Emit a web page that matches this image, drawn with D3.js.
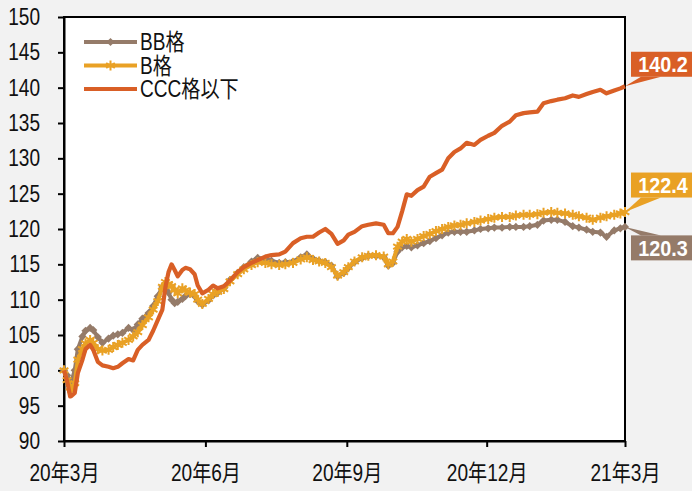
<!DOCTYPE html>
<html>
<head>
<meta charset="utf-8">
<script src="https://cdn.jsdelivr.net/npm/d3@7"></script>
<style>
  body { margin: 0; background: #f2f2f2; }
  svg text { font-family: "Liberation Sans Narrow", "Arial Narrow", "Liberation Sans", "Noto Sans CJK JP", sans-serif; }
  .axis path, .axis line { stroke: #000; stroke-width: 2px; }
  .axis text { font-size: 23px; fill: #111; }
</style>
</head>
<body>
<div id="result"></div>
<script>

var dates = [
  "2020-03-01","2020-03-03","2020-03-05","2020-03-06","2020-03-08","2020-03-10","2020-03-13","2020-03-15","2020-03-18","2020-03-20",
  "2020-03-23","2020-03-26","2020-03-30","2020-04-02","2020-04-05","2020-04-08","2020-04-12","2020-04-15","2020-04-18","2020-04-21",
  "2020-04-25","2020-04-28","2020-05-01","2020-05-04","2020-05-06","2020-05-08","2020-05-10","2020-05-12","2020-05-14","2020-05-17",
  "2020-05-19","2020-05-22","2020-05-25","2020-05-27","2020-05-30","2020-06-03","2020-06-06","2020-06-09","2020-06-13","2020-06-17",
  "2020-06-22","2020-06-26","2020-07-01","2020-07-05","2020-07-10","2020-07-14","2020-07-19","2020-07-23","2020-07-28","2020-08-02",
  "2020-08-06","2020-08-10","2020-08-14","2020-08-18","2020-08-22","2020-08-26","2020-08-30","2020-09-02","2020-09-06","2020-09-11",
  "2020-09-15","2020-09-20","2020-09-25","2020-09-28","2020-10-01","2020-10-04","2020-10-07","2020-10-10","2020-10-13","2020-10-17",
  "2020-10-21","2020-10-25","2020-10-29","2020-11-02","2020-11-06","2020-11-10","2020-11-14","2020-11-18","2020-11-23","2020-11-27",
  "2020-12-02","2020-12-06","2020-12-11","2020-12-16","2020-12-20","2020-12-25","2020-12-29","2021-01-03","2021-01-07","2021-01-12",
  "2021-01-16","2021-01-21","2021-01-26","2021-01-30","2021-02-04","2021-02-08","2021-02-13","2021-02-17","2021-02-22","2021-02-26",
  "2021-03-01"
];

var bbVals = [
  100.0, 99.3, 98.3, 98.6, 100.0, 103.0, 104.8, 105.6, 106.0, 105.7,
  104.7, 103.9, 104.5, 104.9, 105.1, 105.3, 106.0, 105.7, 106.5, 107.3,
  108.1, 109.1, 110.5, 111.8, 112.3, 111.0, 110.0, 109.5, 109.7, 110.1,
  110.5, 110.8, 110.5, 109.8, 109.3, 109.9, 110.6, 111.0, 111.6, 112.8,
  113.8, 114.6, 115.4, 115.9, 115.8, 115.5, 115.2, 115.3, 115.4, 116.0,
  116.4, 115.8, 115.5, 115.3, 114.8, 113.3, 113.8, 114.5, 115.3, 115.9,
  116.2, 116.2, 116.0, 114.8, 115.2, 116.8, 117.4, 117.6, 117.4, 117.7,
  118.0, 118.3, 118.7, 119.1, 119.5, 119.6, 119.6, 119.6, 119.8, 120.0,
  120.1, 120.2, 120.2, 120.3, 120.3, 120.3, 120.4, 120.6, 121.2, 121.3,
  121.3, 121.0, 120.4, 120.2, 119.9, 119.6, 119.5, 118.9, 119.8, 120.1,
  120.3
];

var bVals = [
  100.0, 98.6, 97.6, 97.2, 98.2, 101.5, 103.0, 103.8, 104.3, 103.9,
  103.0, 102.8, 102.9, 103.3, 103.6, 103.9, 104.3, 104.8, 105.4, 106.4,
  107.5, 108.6, 109.8, 111.8, 112.5, 112.2, 111.9, 111.4, 110.9, 111.6,
  111.3, 111.0, 110.8, 110.0, 109.4, 110.1, 110.8, 111.1, 111.5, 112.6,
  113.6, 114.3, 114.9, 115.3, 115.2, 115.0, 114.9, 115.0, 115.2, 115.7,
  116.0, 115.6, 115.4, 115.2, 114.6, 113.4, 113.9, 114.6, 115.4, 116.0,
  116.2, 116.3, 116.1, 115.0, 115.4, 117.5, 118.2, 118.6, 118.2, 118.6,
  119.0, 119.3, 119.7, 120.0, 120.3, 120.5, 120.6, 120.8, 121.0, 121.2,
  121.4, 121.6, 121.7, 121.7, 121.9, 122.0, 122.0, 122.1, 122.3, 122.4,
  122.3, 122.2, 122.0, 121.8, 121.6, 121.3, 121.6, 121.8, 122.0, 122.2,
  122.4
];

var cccVals = [
  100.0, 98.5, 96.3, 96.4, 96.8, 99.6, 101.5, 103.0, 103.6, 102.9,
  101.2, 100.7, 100.5, 100.3, 100.5, 101.0, 101.6, 101.4, 102.9, 103.6,
  104.3, 105.6, 107.1, 108.6, 111.8, 113.9, 115.0, 114.2, 113.3, 114.2,
  114.5, 114.3, 113.6, 112.0, 110.9, 111.4, 112.0, 111.6, 111.9, 112.7,
  113.9, 114.6, 115.2, 115.6, 116.1, 116.3, 116.4, 116.8, 118.0, 118.7,
  118.9, 118.9, 119.5, 120.0, 119.3, 117.9, 118.4, 119.2, 119.6, 120.4,
  120.6, 120.8, 120.6, 119.4, 119.4, 120.3, 122.5, 124.9, 124.7, 125.5,
  126.0, 127.4, 127.9, 128.4, 130.0, 130.9, 131.4, 132.2, 131.9, 132.6,
  133.2, 133.6, 134.6, 135.2, 136.1, 136.4, 136.5, 136.6, 137.8, 138.1,
  138.3, 138.5, 138.9, 138.7, 139.1, 139.4, 139.7, 139.2, 139.6, 139.9,
  140.2
];

var seriesNames = ["BB格", "B格", "CCC格以下"];
var tickDates = ["2020-03-01", "2020-06-01", "2020-09-01", "2020-12-01", "2021-03-01"];
var tickLabels = ["20年3月", "20年6月", "20年9月", "20年12月", "21年3月"];
var yTicks = [90, 95, 100, 105, 110, 115, 120, 125, 130, 135, 140, 145, 150];

var width = 692, height = 491;
var margin = {top: 17, right: 67, bottom: 50, left: 64};
var parse = d3.timeParse("%Y-%m-%d");

var series = [
  {name: seriesNames[0], vals: bbVals, color: "#957b69", marker: "diamond", labelDy: 21},
  {name: seriesNames[1], vals: bVals, color: "#e9a125", marker: "star", labelDy: -27},
  {name: seriesNames[2], vals: cccVals, color: "#d95f26", marker: null, labelDy: -22}
];
series.forEach(function(s) {
  s.data = dates.map(function(dt, i) { return {date: parse(dt), val: s.vals[i]}; });
});

var x = d3.scaleTime()
    .domain([parse(tickDates[0]), parse(tickDates[tickDates.length - 1])])
    .range([margin.left, width - margin.right]);

var y = d3.scaleLinear()
    .domain([90, 150])
    .range([441, margin.top]);

var line = d3.line()
    .x(function(d) { return x(d.date); })
    .y(function(d) { return y(d.val); })
    .curve(d3.curveLinear);

// narrow the glyphs horizontally, keeping the anchor point in place
function narrow(sel, k) {
  k = k || 0.83;
  sel.each(function() {
    var t = d3.select(this), x0 = +t.attr("x") || 0;
    t.attr("x", x0 / k).attr("transform", "scale(" + k + ",1)");
  });
}

var svg = d3.select("#result").append("svg")
    .attr("width", width)
    .attr("height", height);

svg.append("rect")
    .attr("width", width).attr("height", height)
    .attr("fill", "#f2f2f2");

svg.append("rect")
    .attr("x", x.range()[0]).attr("y", y(150))
    .attr("width", x.range()[1] - x.range()[0])
    .attr("height", y(90) - y(150))
    .attr("fill", "#fff")
    .attr("stroke", "#000")
    .attr("stroke-width", 2);

var xAxis = d3.axisBottom(x)
    .tickValues(tickDates.map(parse))
    .tickFormat(function(d, i) { return tickLabels[i]; })
    .tickSize(6)
    .tickSizeOuter(0)
    .tickPadding(18);

var yAxis = d3.axisLeft(y)
    .tickValues(yTicks)
    .tickSize(6)
    .tickSizeOuter(0)
    .tickPadding(18);

svg.append("g")
    .attr("class", "x axis")
    .attr("transform", "translate(0," + y(90) + ")")
    .call(xAxis)
    .selectAll("text").call(narrow);

svg.append("g")
    .attr("class", "y axis")
    .attr("transform", "translate(" + x.range()[0] + ",0)")
    .call(yAxis)
    .selectAll("text").call(narrow);

function drawMarkers(g, pts, s) {
  if (s.marker === "diamond") {
    g.selectAll("path.m").data(pts).enter().append("path")
      .attr("class", "m")
      .attr("d", d3.symbol(d3.symbolSquare, 34))
      .attr("transform", function(d) { return "translate(" + d[0] + "," + d[1] + ") rotate(45)"; })
      .attr("fill", s.color);
  } else if (s.marker === "star") {
    g.selectAll("path.m").data(pts).enter().append("path")
      .attr("class", "m")
      .attr("d", d3.symbol(d3.symbolAsterisk, 70))
      .attr("transform", function(d) { return "translate(" + d[0] + "," + d[1] + ")"; })
      .attr("fill", "none")
      .attr("stroke", s.color)
      .attr("stroke-width", 2);
  }
}

series.forEach(function(s) {
  var g = svg.append("g");
  g.append("path")
    .datum(s.data)
    .attr("d", line)
    .attr("fill", "none")
    .attr("stroke", s.color)
    .attr("stroke-width", s.marker ? 4 : 4.2)
    .attr("stroke-linejoin", "round");
  drawMarkers(g, s.data.map(function(d) { return [x(d.date), y(d.val)]; }), s);
});

// legend
var legend = svg.append("g").attr("transform", "translate(84,42)");
series.forEach(function(s, i) {
  var row = legend.append("g").attr("transform", "translate(0," + (i * 23.5) + ")");
  row.append("line")
    .attr("x1", 0).attr("x2", 53)
    .attr("stroke", s.color).attr("stroke-width", 4);
  drawMarkers(row, [[26.5, 0]], s);
  row.append("text")
    .attr("x", 56).attr("dy", "0.36em")
    .attr("font-size", 23)
    .attr("fill", "#111")
    .text(s.name)
    .call(narrow);
});

// end labels
var boxX = 631, boxW = 62, boxH = 25;
series.forEach(function(s) {
  var last = s.data[s.data.length - 1];
  var px = x(last.date), py = y(last.val);
  var cy = py + s.labelDy;
  var top = cy - boxH / 2, bot = cy + boxH / 2;
  var edge = s.labelDy < 0 ? bot : top;
  svg.append("path")
    .attr("d", "M" + px + "," + py + "L" + (boxX + 10) + "," + edge + "L" + (boxX + 30) + "," + edge + "Z")
    .attr("fill", s.color);
  svg.append("rect")
    .attr("x", boxX).attr("y", top)
    .attr("width", boxW).attr("height", boxH)
    .attr("fill", s.color);
  svg.append("text")
    .attr("x", boxX + boxW / 2 + 1).attr("y", cy)
    .attr("dy", "0.36em")
    .attr("text-anchor", "middle")
    .attr("font-size", 22)
    .attr("font-weight", "bold")
    .attr("fill", "#fff")
    .text(last.val.toFixed(1))
    .call(narrow, 0.9);
});

</script>
</body>
</html>
